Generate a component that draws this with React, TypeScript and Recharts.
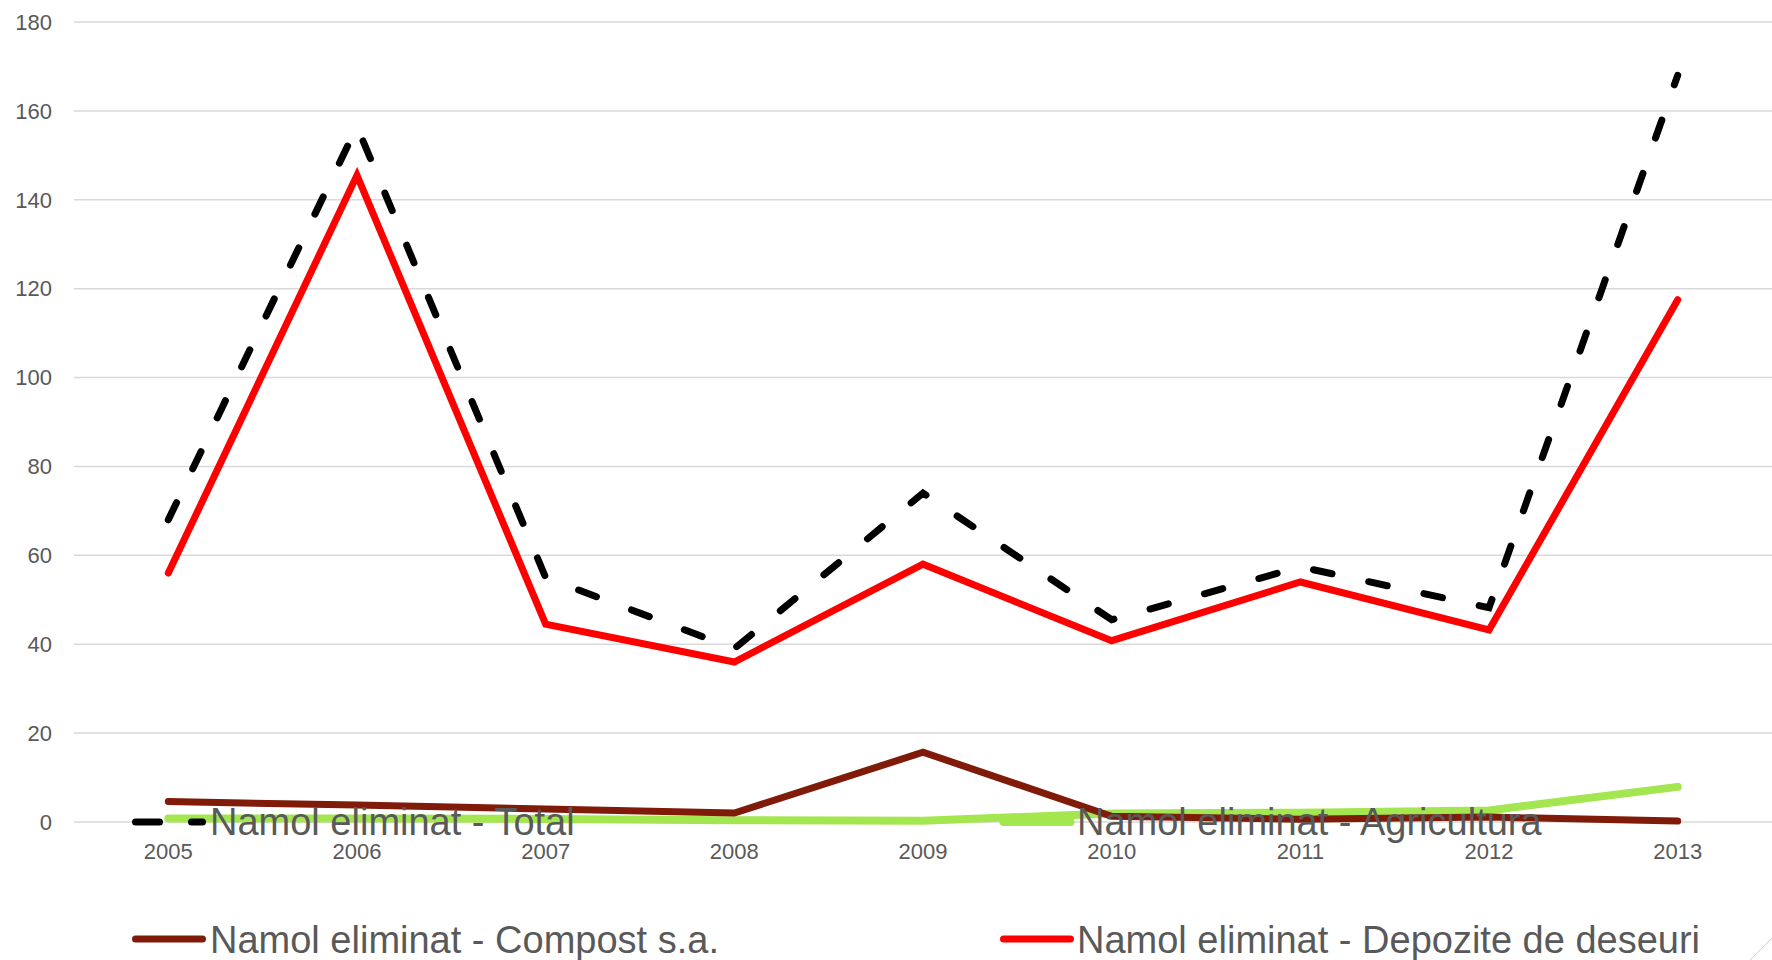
import React from 'react';
import { LineChart, Line, XAxis, YAxis, CartesianGrid, Legend } from 'recharts';

const years = ['2005', '2006', '2007', '2008', '2009', '2010', '2011', '2012', '2013'];
const total = [68, 156.5, 55, 39, 74, 45.5, 57.4, 48.2, 168];
const agricultura = [0.8, 0.8, 0.7, 0.4, 0.3, 1.9, 2.1, 2.6, 7.9];
const compost = [4.6, 3.8, 2.9, 2.0, 15.7, 1.3, 0.6, 1.1, 0.2];
const depozite = [56, 145.5, 44.5, 36, 58, 40.8, 54, 43.2, 117.5];
const yTicks = [0, 20, 40, 60, 80, 100, 120, 140, 160, 180];

const seriesNames = [
  'Namol eliminat - Total',
  'Namol eliminat - Agricultura',
  'Namol eliminat - Compost s.a.',
  'Namol eliminat - Depozite de deseuri',
];

const data = years.map((year, i) => ({
  year,
  total: total[i],
  agricultura: agricultura[i],
  compost: compost[i],
  depozite: depozite[i],
}));

const FONT = "'Liberation Sans', Arial, sans-serif";
const TEXT = '#595959';
const GRID = '#D9D9D9';

const legendStyles = [
  { color: '#000000', dash: '24 32', width: 7 },
  { color: '#A4E650', dash: undefined, width: 8 },
  { color: '#7F1B08', dash: undefined, width: 7 },
  { color: '#FF0000', dash: undefined, width: 7 },
];

const LEGEND_TOP = 780;
const colIcon = [135.5, 1003.5];
const colText = [210, 1077];
const rowLine = [42, 159];
const rowBase = [55, 173];

const renderLegend = () => (
  <svg width={1772} height={180} style={{ display: 'block', overflow: 'visible' }}>
    {seriesNames.map((name, i) => {
      const col = i % 2;
      const row = Math.floor(i / 2);
      const st = legendStyles[i];
      return (
        <g key={name}>
          <line
            x1={colIcon[col]}
            x2={colIcon[col] + 67}
            y1={rowLine[row]}
            y2={rowLine[row]}
            stroke={st.color}
            strokeWidth={st.width}
            strokeLinecap="round"
            strokeDasharray={st.dash}
          />
          <text
            x={colText[col]}
            y={rowBase[row]}
            fill={TEXT}
            fontSize={38}
            fontFamily={FONT}
          >
            {name}
          </text>
        </g>
      );
    })}
  </svg>
);

export default function App() {
  return (
    <div
      style={{
        position: 'absolute',
        left: 0,
        top: 0,
        width: 1772,
        height: 960,
        overflow: 'hidden',
        background: '#ffffff',
      }}
    >
      <LineChart
        width={1772}
        height={960}
        data={data}
        margin={{ top: 22, right: 0, bottom: 0, left: 0 }}
      >
        <CartesianGrid horizontal vertical={false} stroke={GRID} strokeWidth={1.5} />
        <XAxis
          dataKey="year"
          interval={0}
          height={138}
          padding={{ left: 94.3, right: 94.3 }}
          axisLine={false}
          tickLine={false}
          tickSize={0}
          tickMargin={21}
          tick={{ fill: TEXT, fontSize: 22, fontFamily: FONT }}
        />
        <YAxis
          domain={[0, 180]}
          ticks={yTicks}
          width={74}
          axisLine={false}
          tickLine={false}
          tickSize={0}
          tickMargin={22}
          tick={{ fill: TEXT, fontSize: 22, fontFamily: FONT }}
        />
        <Line
          dataKey="total"
          name={seriesNames[0]}
          stroke="#000000"
          strokeWidth={7}
          strokeDasharray="19 37.5"
          strokeLinecap="round"
          dot={false}
          isAnimationActive={false}
        />
        <Line
          dataKey="agricultura"
          name={seriesNames[1]}
          stroke="#A4E650"
          strokeWidth={8}
          strokeLinecap="round"
          dot={false}
          isAnimationActive={false}
        />
        <Line
          dataKey="compost"
          name={seriesNames[2]}
          stroke="#7F1B08"
          strokeWidth={7}
          strokeLinecap="round"
          dot={false}
          isAnimationActive={false}
        />
        <Line
          dataKey="depozite"
          name={seriesNames[3]}
          stroke="#FF0000"
          strokeWidth={7}
          strokeLinecap="round"
          dot={false}
          isAnimationActive={false}
        />
        <Legend
          verticalAlign="middle"
          layout="horizontal"
          align="center"
          wrapperStyle={{ position: 'absolute', top: LEGEND_TOP, left: 0, width: 1772, height: 180 }}
          content={renderLegend}
        />
      </LineChart>
      <svg
        width={40}
        height={40}
        style={{ position: 'absolute', left: 1740, top: 925 }}
      >
        <line x1={32} y1={13} x2={10} y2={35} stroke="#D0D0D0" strokeWidth={1} />
      </svg>
    </div>
  );
}
